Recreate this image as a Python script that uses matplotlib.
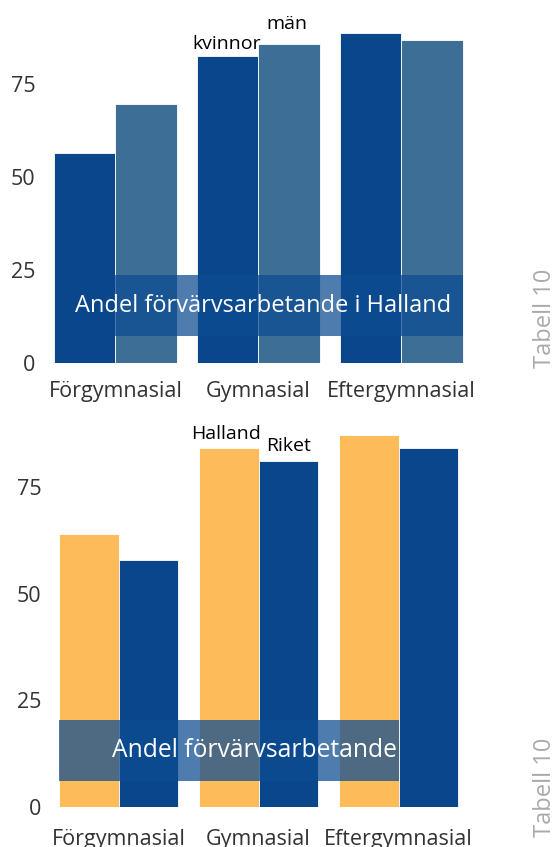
import matplotlib
matplotlib.use("Agg")
import matplotlib.pyplot as plt
import numpy as np

plt.rcParams["font.family"] = ["Open Sans", "DejaVu Sans"]

# Data
categories = ["Förgymnasial", "Gymnasial", "Eftergymnasial"]
kvinnor = [56.4, 82.6, 88.8]
man = [69.7, 85.8, 86.9]
halland = [63.9, 84.1, 87.1]
riket = [57.8, 81.0, 84.1]
yticks = [0, 25, 50, 75]

DARK = "#0a468c"
STEEL = "#3d6f96"
ORANGE = "#fdbb5a"
BAND = "#0d4c92"
TICK_COL = "#333333"

fig = plt.figure(figsize=(5.58, 8.47), dpi=100)


def style_axes(ax, ylim, xpad, ypad):
    ax.set_xlim(-0.45, 2.45)
    ax.set_ylim(*ylim)
    for s in ax.spines.values():
        s.set_visible(False)
    ax.set_yticks(yticks)
    ax.set_xticks(range(len(categories)))
    ax.set_xticklabels(categories)
    ax.tick_params(axis="both", length=0, labelsize=15.5, labelcolor=TICK_COL)
    ax.tick_params(axis="x", pad=xpad)
    ax.tick_params(axis="y", pad=ypad)


def draw_panel(ax, s1, s2, c1, c2, w, band, band_on, title, title_dx, title_size,
               lab1, lab2, lab2_dy):
    x = np.arange(len(categories))
    ax.bar(x - w / 2, s1, w, color=c1, edgecolor="white", linewidth=0.6, zorder=2)
    ax.bar(x + w / 2, s2, w, color=c2, edgecolor="white", linewidth=0.6, zorder=2)
    # semi transparent title band, spanning one of the series
    if band_on == 2:
        x0, x1 = x[0], x[-1] + w
    else:
        x0, x1 = x[0] - w, x[-1]
    ax.fill_between([x0, x1], band[0], band[1], color=BAND, alpha=0.73, lw=0, zorder=3)
    ax.text(x[1] + title_dx, (band[0] + band[1]) / 2, title, color="white",
            fontsize=title_size, ha="center", va="center", zorder=4)
    # series labels over the middle group
    ax.text(x[1] + 0.02, s1[1] + 2, lab1, ha="right", va="baseline",
            fontsize=14, color="black", clip_on=False)
    ax.text(x[1] + 0.055, s2[1] + lab2_dy, lab2, ha="left", va="baseline",
            fontsize=14, color="black", clip_on=False)


# Top panel
ax1 = fig.add_axes([0.0914, 0.572, 0.743, 0.416])
style_axes(ax1, (0, 95), 13, 11)
draw_panel(ax1, kvinnor, man, DARK, STEEL, 0.43, (7.1, 23.6), 2,
           "Andel förvärvsarbetande i Halland", 0.03, 17, "kvinnor", "män", 4)

# Bottom panel
ax2 = fig.add_axes([0.0995, 0.0472, 0.7276, 0.4638])
style_axes(ax2, (0, 92), 16, 10)
draw_panel(ax2, halland, riket, ORANGE, DARK, 0.425, (6.1, 20.4), 1,
           "Andel förvärvsarbetande", -0.03, 17.7, "Halland", "Riket", 2.3)

fig.text(0.977, 1 - 318 / 847, "Tabell 10", rotation=90, ha="center", va="center",
         fontsize=17, color="#aaaaaa")
fig.text(0.977, 1 - 787 / 847, "Tabell 10", rotation=90, ha="center", va="center",
         fontsize=17, color="#aaaaaa")

fig.savefig("out.png", dpi=100)
